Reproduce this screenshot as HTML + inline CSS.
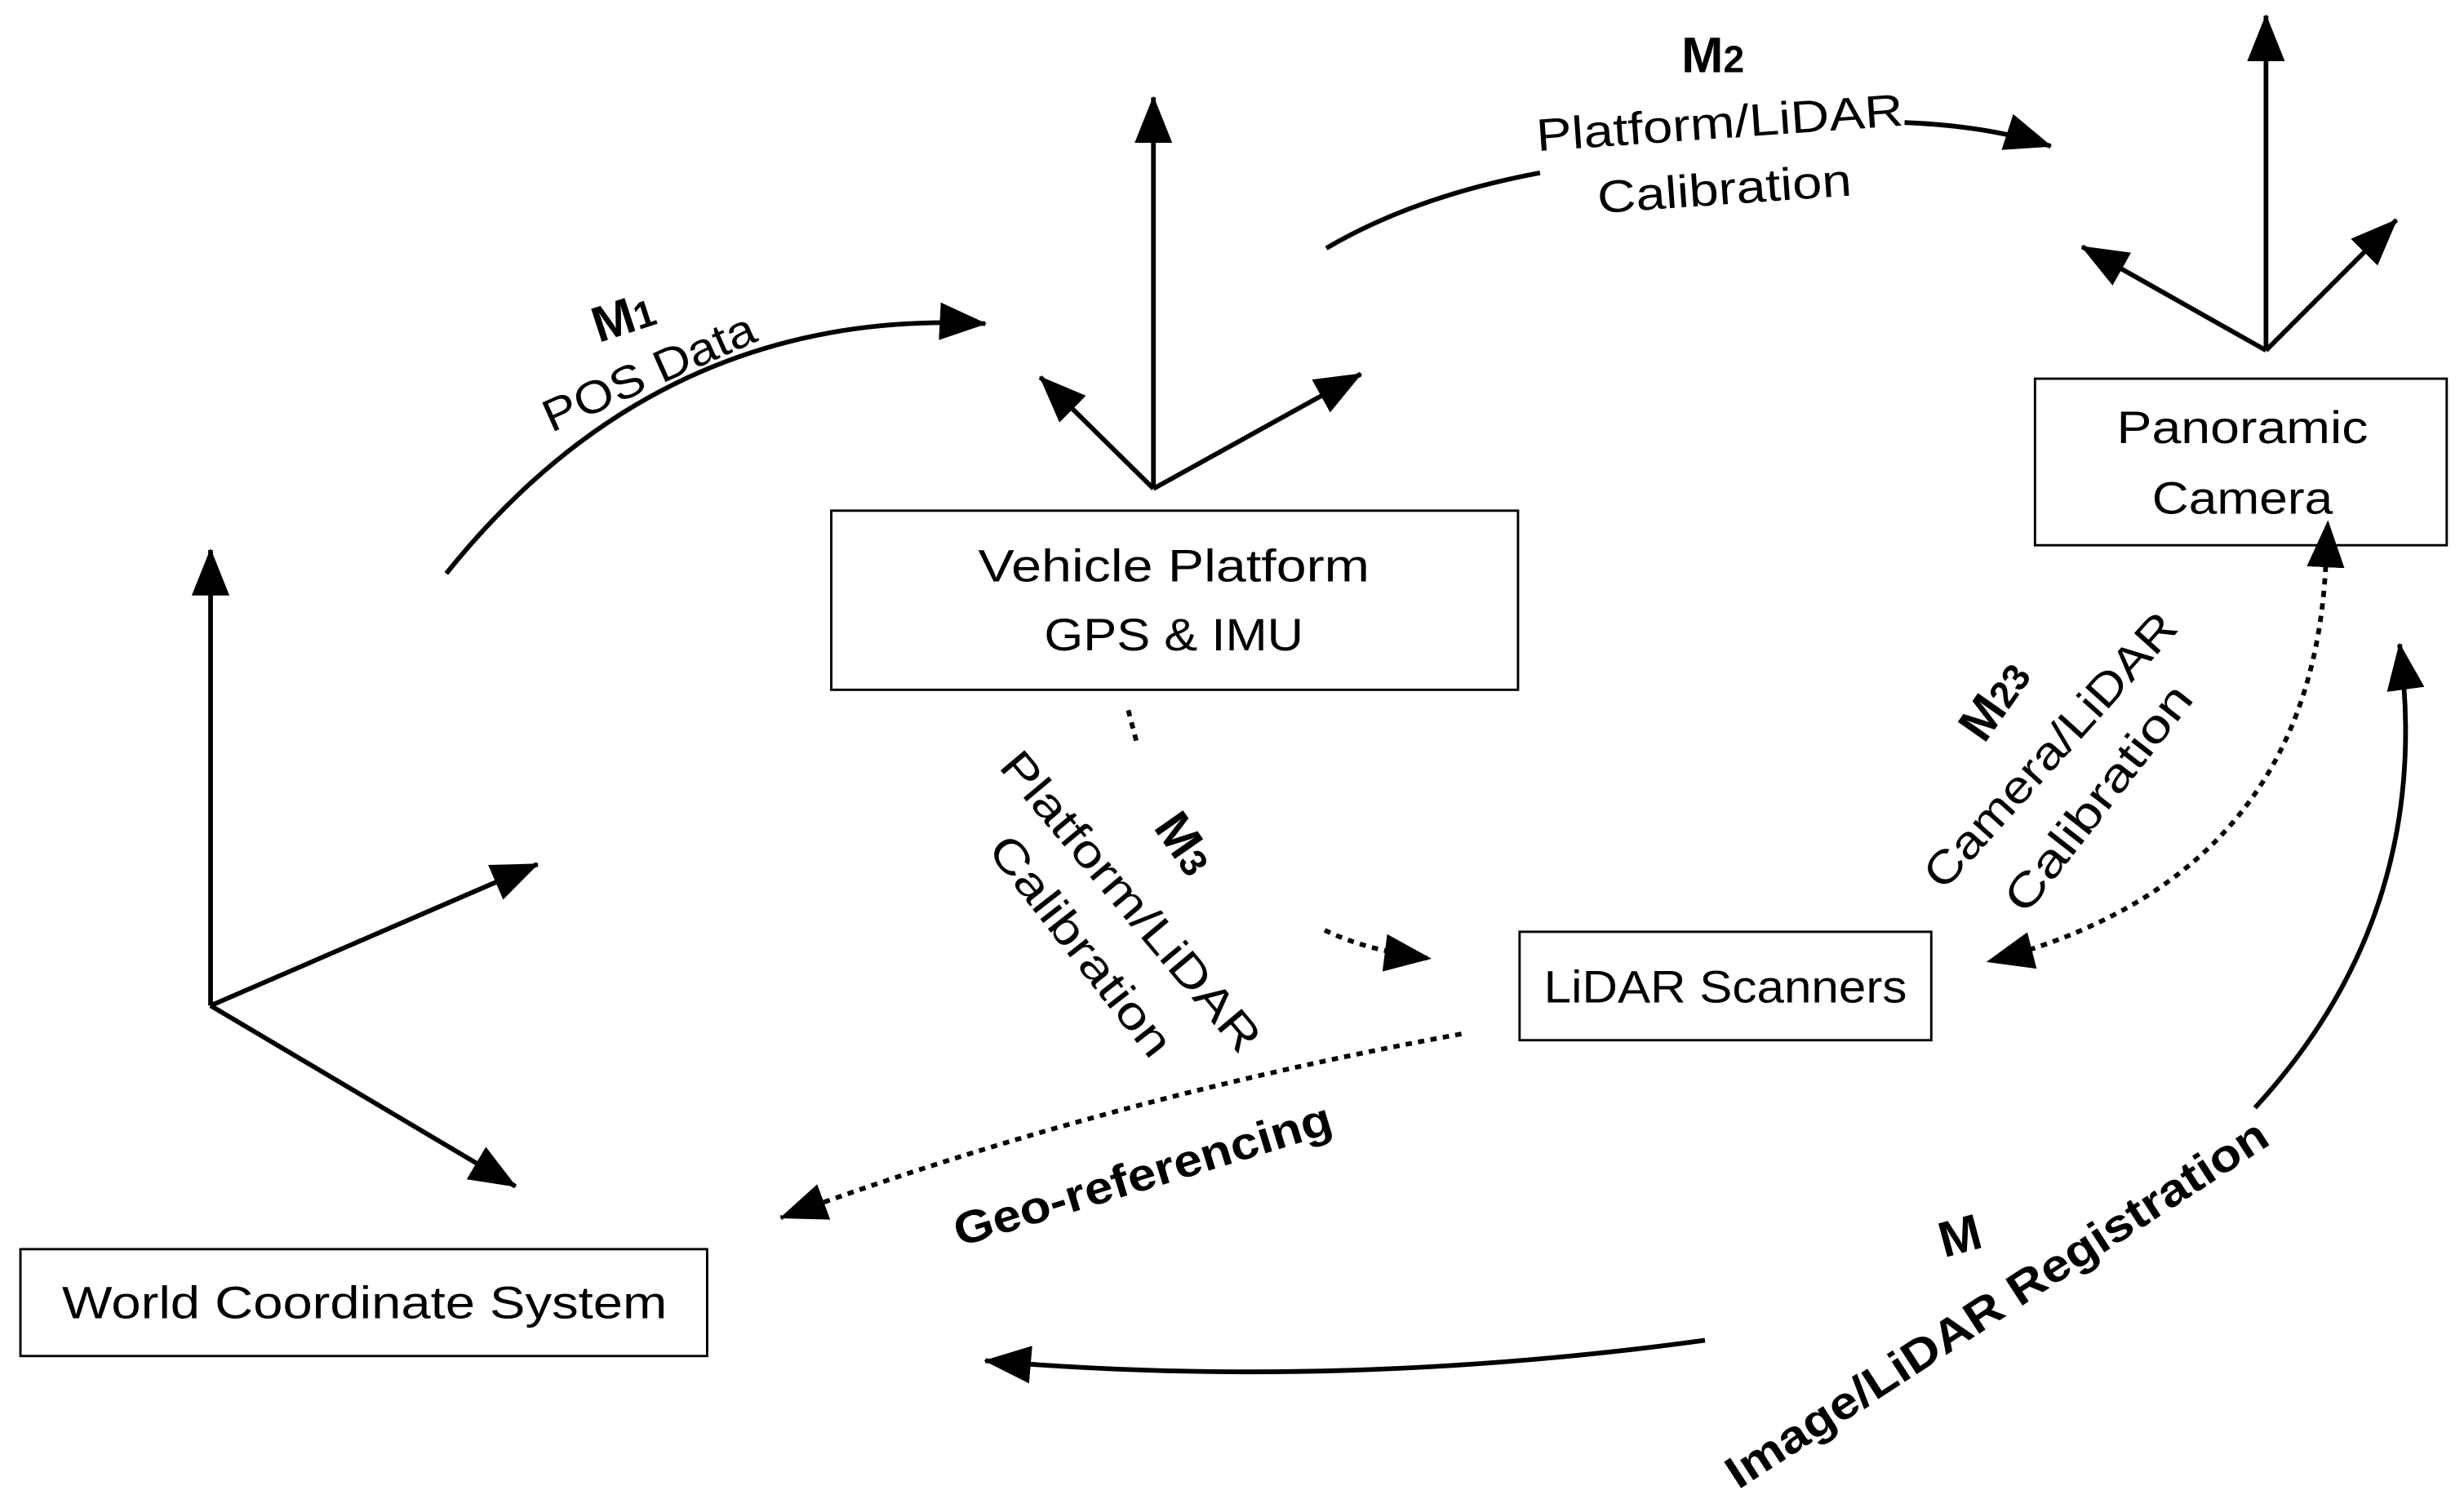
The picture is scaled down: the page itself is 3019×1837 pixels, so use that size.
<!DOCTYPE html>
<html><head><meta charset="utf-8"><style>
html,body{margin:0;padding:0;background:#fff;}
svg{display:block;}
text{font-family:"Liberation Sans",sans-serif;fill:#000;}
</style></head><body>
<svg width="3019" height="1837" viewBox="0 0 1568 954" preserveAspectRatio="none" xmlns="http://www.w3.org/2000/svg">
<defs>
<marker id="a" viewBox="0 0 30 24" refX="29" refY="12" markerWidth="30" markerHeight="24" orient="auto" markerUnits="userSpaceOnUse"><path d="M0,0 L30,12 L0,24 z" fill="#000"/></marker>
<marker id="as" viewBox="0 0 30 24" refX="1" refY="12" markerWidth="30" markerHeight="24" orient="auto-start-reverse" markerUnits="userSpaceOnUse"><path d="M0,0 L30,12 L0,24 z" fill="#000"/></marker>
</defs>
<g fill="none" stroke="#000" stroke-width="1.5">
<rect x="529" y="325" width="437" height="114"/>
<rect x="1295" y="241" width="262" height="106"/>
<rect x="967" y="593" width="262" height="69"/>
<rect x="13" y="795" width="437" height="68"/>
</g>
<g fill="none" stroke="#000" stroke-width="3">
<line x1="134" y1="640" x2="134" y2="350" marker-end="url(#a)"/>
<line x1="134" y1="640" x2="342" y2="550" marker-end="url(#a)"/>
<line x1="134" y1="640" x2="328" y2="755" marker-end="url(#a)"/>
<line x1="734" y1="311" x2="734" y2="62" marker-end="url(#a)"/>
<line x1="734" y1="311" x2="662" y2="240" marker-end="url(#a)"/>
<line x1="734" y1="311" x2="866" y2="238" marker-end="url(#a)"/>
<line x1="1442" y1="223" x2="1442" y2="10" marker-end="url(#a)"/>
<line x1="1442" y1="223" x2="1325" y2="157" marker-end="url(#a)"/>
<line x1="1442" y1="223" x2="1525" y2="140" marker-end="url(#a)"/>
<path d="M284,365 Q420,195 627,206" marker-end="url(#a)"/>
<path d="M844,158 Q900,125 980,110"/>
<path d="M1212,78 Q1265,80 1305,93" marker-end="url(#a)"/>
<path d="M1435,705 Q1550,580 1527,410" marker-end="url(#a)"/>
<path d="M1085,853 Q850,885 627,866" marker-end="url(#a)"/>
</g>
<g fill="none" stroke="#000" stroke-width="3" stroke-dasharray="4,4">
<path d="M718,452 L724,475"/>
<path d="M843,592 Q870,605 910,610" marker-end="url(#a)"/>
<path d="M1480,360 Q1470,560 1265,612" marker-start="url(#as)" marker-end="url(#a)"/>
<path d="M930,658 Q700,700 497,775" marker-end="url(#a)"/>
</g>
<g font-size="29" text-anchor="middle">
<text x="747" y="370" textLength="249" lengthAdjust="spacingAndGlyphs">Vehicle Platform</text>
<text x="747" y="414" textLength="165" lengthAdjust="spacingAndGlyphs">GPS &amp; IMU</text>
<text x="1427" y="282" textLength="160" lengthAdjust="spacingAndGlyphs">Panoramic</text>
<text x="1427" y="327" textLength="115" lengthAdjust="spacingAndGlyphs">Camera</text>
<text x="1098" y="638" textLength="231" lengthAdjust="spacingAndGlyphs">LiDAR Scanners</text>
<text x="232" y="839" textLength="385" lengthAdjust="spacingAndGlyphs">World Coordinate System</text>
<text transform="translate(400,212) rotate(-18)" font-weight="bold" font-size="32">M<tspan font-size="24">1</tspan></text>
<text transform="translate(417,246) rotate(-24)" textLength="145" lengthAdjust="spacingAndGlyphs">POS Data</text>
<text x="1090" y="46" font-weight="bold" font-size="32">M<tspan font-size="24">2</tspan></text>
<text transform="translate(1095,88) rotate(-4)" textLength="234" lengthAdjust="spacingAndGlyphs">Platform/LiDAR</text>
<text transform="translate(1098,130) rotate(-4)" textLength="162" lengthAdjust="spacingAndGlyphs">Calibration</text>
<text transform="translate(745,543) rotate(55)" font-weight="bold" font-size="32">M<tspan font-size="24">3</tspan></text>
<text transform="translate(712,580) rotate(50)" textLength="240" lengthAdjust="spacingAndGlyphs">Platform/LiDAR</text>
<text transform="translate(680,608) rotate(52)" textLength="170" lengthAdjust="spacingAndGlyphs">Calibration</text>
<text transform="translate(1278,452) rotate(-55)" font-weight="bold" font-size="32">M<tspan font-size="24">23</tspan></text>
<text transform="translate(1312,484) rotate(-48)" textLength="225" lengthAdjust="spacingAndGlyphs">Camera/LiDAR</text>
<text transform="translate(1343,514) rotate(-52)" textLength="175" lengthAdjust="spacingAndGlyphs">Calibration</text>
<text transform="translate(730,757) rotate(-17)" font-weight="bold" textLength="250" lengthAdjust="spacingAndGlyphs">Geo-referencing</text>
<text transform="translate(1250,797) rotate(-15)" font-weight="bold" font-size="32">M</text>
<text transform="translate(1276,838) rotate(-33)" font-weight="bold" textLength="405" lengthAdjust="spacingAndGlyphs">Image/LiDAR Registration</text>
</g>
</svg>
</body></html>
